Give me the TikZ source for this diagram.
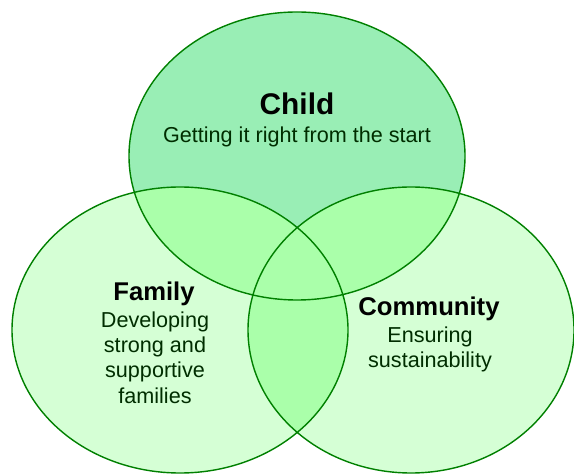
\documentclass[tikz,border=0pt]{standalone}
\usepackage{fontspec}
\setmainfont{Liberation Sans}
\usetikzlibrary{positioning}

\definecolor{childfill}{RGB}{153,238,181}
\definecolor{ringfill}{RGB}{213,255,213}
\definecolor{overlapfill}{RGB}{170,255,170}
\definecolor{ringline}{RGB}{0,128,0}
\definecolor{bodytext}{RGB}{0,45,0}

\newcommand{\childring}{(297,317) ellipse [x radius=168, y radius=144]}
\newcommand{\familyring}{(180,143) ellipse [x radius=168, y radius=143]}
\newcommand{\communityring}{(411,143) ellipse [x radius=163, y radius=143]}

\begin{document}
\begin{tikzpicture}[x=0.02cm,y=0.02cm,
  every node/.style={align=center,inner sep=0pt},
  bigtitle/.style={font=\fontsize{17}{20}\selectfont\bfseries,anchor=base},
  ringtitle/.style={font=\fontsize{14.6}{17}\selectfont\bfseries,anchor=base},
  ringbody/.style={font=\fontsize{12.3}{14.2}\selectfont,text=bodytext,anchor=base}]
\useasboundingbox (0,0) rectangle (574,473);
\clip (0,0) rectangle (574,473);

% the three rings
\fill[childfill] \childring;
\fill[ringfill] \familyring;
\fill[ringfill] \communityring;

% overlaps
\begin{scope}
  \clip \childring;
  \fill[overlapfill] \familyring;
  \fill[overlapfill] \communityring;
\end{scope}
\begin{scope}
  \clip \familyring;
  \fill[overlapfill] \communityring;
\end{scope}

\draw[ringline,line width=0.8pt] \childring \familyring \communityring;

% labels
\node[bigtitle] (child) at (297,358) {Child};
\node[ringbody] (childtxt) at (297,330) {Getting it right from the start};

\node[ringtitle] (family) at (154,172) {Family};
\node[ringbody] (familytxt1) at (155,145) {Developing};
\node[ringbody] (familytxt2) at (155,120) {strong and};
\node[ringbody] (familytxt3) at (155,95) {supportive};
\node[ringbody] (familytxt4) at (155,70) {families};

\node[ringtitle] (community) at (429,157) {Community};
\node[ringbody] (communitytxt1) at (430,130) {Ensuring};
\node[ringbody] (communitytxt2) at (430,105) {sustainability};
\end{tikzpicture}
\end{document}
